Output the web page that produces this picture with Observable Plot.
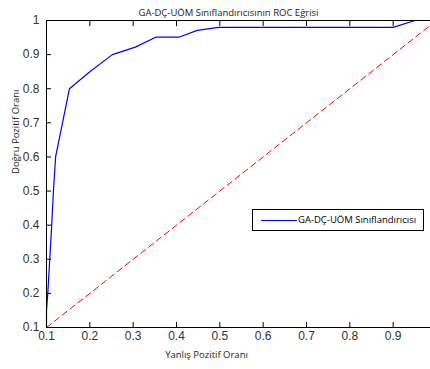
<!DOCTYPE html>
<html><head><meta charset="utf-8">
<script src="https://cdn.jsdelivr.net/npm/d3@7"></script>
<script src="https://cdn.jsdelivr.net/npm/@observablehq/plot@0.6"></script>
<style>
html,body{margin:0;padding:0;background:#fff;overflow:hidden;width:430px;height:369px;}
#wrap{position:relative;width:430px;height:369px;overflow:hidden;}
#wrap svg{max-width:none !important;width:440px !important;height:369px !important;display:block;}
#legend{position:absolute;left:252px;top:209px;width:170px;height:20px;border:1px solid #000;background:#fff;font-family:"Open Sans",sans-serif;font-size:9.5px;color:#000;}
#legend .ln{position:absolute;left:8px;top:10px;width:36px;height:0;border-top:1px solid #0000ff;}
#legend .tx{position:absolute;left:45px;top:3px;white-space:nowrap;}
</style></head>
<body><div id="wrap"><div id="legend"><span class="ln"></span><span class="tx">GA-DÇ-UÖM Sınıflandırıcısı</span></div></div>
<script>
const titleText = "GA-DÇ-UÖM Sınıflandırıcısının ROC Eğrisi";
const xLabel = "Yanlış Pozitif Oranı";
const yLabel = "Doğru Pozitif Oranı";
const fpr = [0.1, 0.1, 0.103, 0.112, 0.116, 0.121, 0.153, 0.2, 0.252, 0.305, 0.352, 0.405, 0.448, 0.497, 0.6, 0.7, 0.8, 0.9, 0.95, 1.0];
const tpr = [0.1, 0.15, 0.2, 0.4, 0.5, 0.6, 0.8, 0.85, 0.9, 0.922, 0.951, 0.951, 0.971, 0.98, 0.98, 0.98, 0.98, 0.98, 1.0, 1.0];
const chanceX = [0.1, 1.0];
const chanceY = [0.1, 1.0];
const xTicks = [0.1, 0.2, 0.3, 0.4, 0.5, 0.6, 0.7, 0.8, 0.9, 1.0];
const yTicks = [0.1, 0.2, 0.3, 0.4, 0.5, 0.6, 0.7, 0.8, 0.9, 1.0];

const curve = fpr.map((x, i) => ({x, y: tpr[i]}));
const chance = chanceX.map((x, i) => ({x, y: chanceY[i]}));
const fmt = d => d === 1 ? "1" : d.toFixed(1);

const chart = Plot.plot({
  width: 440, height: 369,
  marginLeft: 46, marginRight: 4, marginTop: 20, marginBottom: 42,
  style: {fontFamily: "'Liberation Sans', Arial, sans-serif", fontSize: "12px", color: "#333", background: "#fff"},
  x: {domain: [0.1, 1.0]},
  y: {domain: [0.1, 1.0]},
  marks: [
    Plot.line(chance, {x: "x", y: "y", stroke: "#ff0000", strokeWidth: 1, strokeDasharray: "6,4"}),
    Plot.line(curve, {x: "x", y: "y", stroke: "#0000ff", strokeWidth: 1.2}),
    Plot.frame({stroke: "#000", strokeWidth: 1}),
    Plot.axisX({ticks: xTicks.slice(0, 9), tickFormat: fmt, tickSize: -5, tickPadding: 9, label: null, stroke: "#000", fill: "#333"}),
    Plot.axisX({ticks: xTicks.slice(1, 9), anchor: "top", tickFormat: () => "", tickSize: -5, tickPadding: 0, label: null, stroke: "#000"}),
    Plot.axisY({ticks: yTicks, tickFormat: fmt, tickSize: -5, tickPadding: 12, label: null, stroke: "#000", fill: "#333"}),
    Plot.text([titleText], {frameAnchor: "top", dy: -11, dx: -13, text: d => d, fontFamily: "'Open Sans', sans-serif", fontSize: 9.5, fill: "#222"}),
    Plot.text([xLabel], {frameAnchor: "bottom", dy: 30, dx: -35, text: d => d, fontFamily: "'Open Sans', sans-serif", fontSize: 9.5, fill: "#222"}),
    Plot.text([yLabel], {frameAnchor: "left", dx: -31, rotate: -90, text: d => d, fontFamily: "'Open Sans', sans-serif", fontSize: 9.5, fill: "#222"})
  ]
});
document.getElementById("wrap").prepend(chart);
</script>
</body></html>
